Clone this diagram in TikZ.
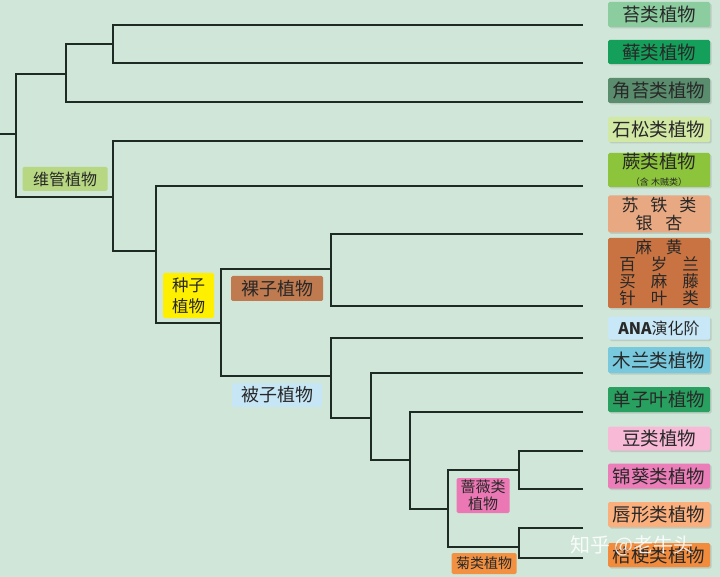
\documentclass[tikz,border=0pt]{standalone}
\usepackage{fontspec}
\newfontfamily\cjk{Noto Sans CJK SC}
\usetikzlibrary{shadows}
\definecolor{bg}{RGB}{208,230,216}
\definecolor{treeline}{RGB}{30,42,36}
\definecolor{textdark}{RGB}{40,40,40}
\definecolor{cLiver}{RGB}{140,205,160}
\definecolor{cMoss}{RGB}{20,160,90}
\definecolor{cHorn}{RGB}{90,140,110}
\definecolor{cLyco}{RGB}{210,232,165}
\definecolor{cFern}{RGB}{140,196,60}
\definecolor{cCycad}{RGB}{232,168,130}
\definecolor{cGnet}{RGB}{200,115,65}
\definecolor{cAna}{RGB}{200,232,248}
\definecolor{cMagn}{RGB}{120,200,222}
\definecolor{cMono}{RGB}{40,160,95}
\definecolor{cLegu}{RGB}{248,185,215}
\definecolor{cMalv}{RGB}{235,125,185}
\definecolor{cLami}{RGB}{250,175,125}
\definecolor{cCamp}{RGB}{242,140,60}
\definecolor{cVasc}{RGB}{183,215,130}
\definecolor{cSeed}{RGB}{255,240,0}
\definecolor{cGymn}{RGB}{192,122,80}
\definecolor{cAngi}{RGB}{198,230,245}
\definecolor{cRosi}{RGB}{235,120,180}
\definecolor{cAste}{RGB}{242,145,65}

\begin{document}
\begin{tikzpicture}[x=1pt, y=-1pt,
    branch/.style={line width=1.8pt, draw=treeline},
    leaf/.style={rounded corners=1.5pt, minimum width=102pt, inner sep=0pt, text=textdark, align=center,
      font=\cjk\fontsize{18.5}{20}\selectfont,
      drop shadow={shadow xshift=1.5pt, shadow yshift=-1.5pt, opacity=0.25}},
    clade/.style={rounded corners=1.5pt, inner sep=0pt, text=textdark, align=center}]
    \useasboundingbox (0,0) rectangle (720,577);
    \fill [bg] (0,0) rectangle (720,577);

    \coordinate (stem) at (0,134);
    \coordinate (root) at (16,134);
    \coordinate (bryo) at (66,74);
    \coordinate (setaph) at (113,44);
    \coordinate (vasc) at (113,197);
    \coordinate (euphyl) at (156,251);
    \coordinate (seed) at (221,323);
    \coordinate (gymno) at (331,269);
    \coordinate (angio) at (331,376);
    \coordinate (mesang) at (371,418);
    \coordinate (monodi) at (410,460);
    \coordinate (eudi) at (448,509);
    \coordinate (rosid) at (519,470);
    \coordinate (asterid) at (519,547);
    \foreach \n/\y in {e1/25, e2/63, e3/102, e4/141, e5/186, e6/234, e7/306,
                       e8/338, e9/373, e10/412, e11/451, e12/489, e13/528, e14/558}
      \coordinate (\n) at (583,\y);

    \draw [branch] (stem) -- (root);
    \draw [branch] (bryo) -| (root) |- (vasc);
    \draw [branch] (setaph) -| (bryo) |- (e3);
    \draw [branch] (e1) -| (setaph) |- (e2);
    \draw [branch] (e4) -| (vasc) |- (euphyl);
    \draw [branch] (e5) -| (euphyl) |- (seed);
    \draw [branch] (gymno) -| (seed) |- (angio);
    \draw [branch] (e6) -| (gymno) |- (e7);
    \draw [branch] (e8) -| (angio) |- (mesang);
    \draw [branch] (e9) -| (mesang) |- (monodi);
    \draw [branch] (e10) -| (monodi) |- (eudi);
    \draw [branch] (rosid) -| (eudi) |- (asterid);
    \draw [branch] (e11) -| (rosid) |- (e12);
    \draw [branch] (e13) -| (asterid) |- (e14);

    \node [clade, fill=cVasc, minimum width=85pt, minimum height=24pt, font=\cjk\fontsize{16}{18}\selectfont] (vasclabel) at (65,179) {维管植物};
    \node [clade, fill=cSeed, minimum width=51pt, minimum height=45pt, font=\cjk\fontsize{16.5}{21}\selectfont] (seedlabel) at (188.5,295.5) {种子\\植物};
    \node [clade, fill=cGymn, minimum width=92pt, minimum height=25pt, font=\cjk\fontsize{18}{20}\selectfont] (gymnolabel) at (277,288.5) {裸子植物};
    \node [clade, fill=cAngi, minimum width=90pt, minimum height=24pt, font=\cjk\fontsize{18}{20}\selectfont] (angiolabel) at (277,395) {被子植物};
    \node [clade, fill=cRosi, minimum width=53pt, minimum height=35pt, font=\cjk\fontsize{15}{17}\selectfont] (rosidlabel) at (483,495.5) {蔷薇类\\植物};
    \node [clade, fill=cAste, minimum width=65pt, minimum height=21pt, font=\cjk\fontsize{14}{16}\selectfont] (asteridlabel) at (484,563.5) {菊类植物};

    \node [leaf, fill=cLiver, minimum height=25pt] (liverwort) at (659,14.5) {苔类植物};
    \node [leaf, fill=cMoss, minimum height=24pt] (moss) at (659,52) {藓类植物};
    \node [leaf, fill=cHorn, minimum height=25pt] (hornwort) at (659,90.5) {角苔类植物};
    \node [leaf, fill=cLyco, minimum height=25pt] (lycophyte) at (659,129.5) {石松类植物};
    \node [leaf, fill=cFern, minimum height=34pt] (fern) at (659,170) {蕨类植物\\[-3pt]{\fontsize{9}{10}\selectfont （含\ 木贼类）}};
    \node [leaf, fill=cCycad, minimum height=37pt, font=\cjk\fontsize{17}{18}\selectfont] (cycad) at (659,214) {苏\hspace{12pt}铁\hspace{12pt}类\\银\hspace{13pt}杏};
    \node [leaf, fill=cGnet, minimum height=70pt, font=\cjk\fontsize{16.5}{17}\selectfont] (gnetum) at (659,273) {麻\hspace{14pt}黄\\百\hspace{15pt}岁\hspace{15pt}兰\\买\hspace{15pt}麻\hspace{15pt}藤\\针\hspace{15pt}叶\hspace{15pt}类};
    \node [leaf, fill=cAna, minimum height=23pt, font=\cjk\fontsize{16}{18}\selectfont] (ana) at (659,328) {{\bfseries ANA}演化阶};
    \node [leaf, fill=cMagn, minimum height=26pt] (magnoliid) at (659,360) {木兰类植物};
    \node [leaf, fill=cMono, minimum height=25pt] (monocot) at (659,399.5) {单子叶植物};
    \node [leaf, fill=cLegu, minimum height=24pt] (legume) at (659,438.5) {豆类植物};
    \node [leaf, fill=cMalv, minimum height=25pt] (malvid) at (659,476) {锦葵类植物};
    \node [leaf, fill=cLami, minimum height=25pt] (lamiid) at (659,514.5) {唇形类植物};
    \node [leaf, fill=cCamp, minimum height=24pt] (campanulid) at (659,555) {桔梗类植物};

    \node [text=white, opacity=0.85, font=\cjk\fontsize{20}{20}\selectfont] (mark) at (632,546) {知乎 @老牛头};
  \end{tikzpicture}
\end{document}
